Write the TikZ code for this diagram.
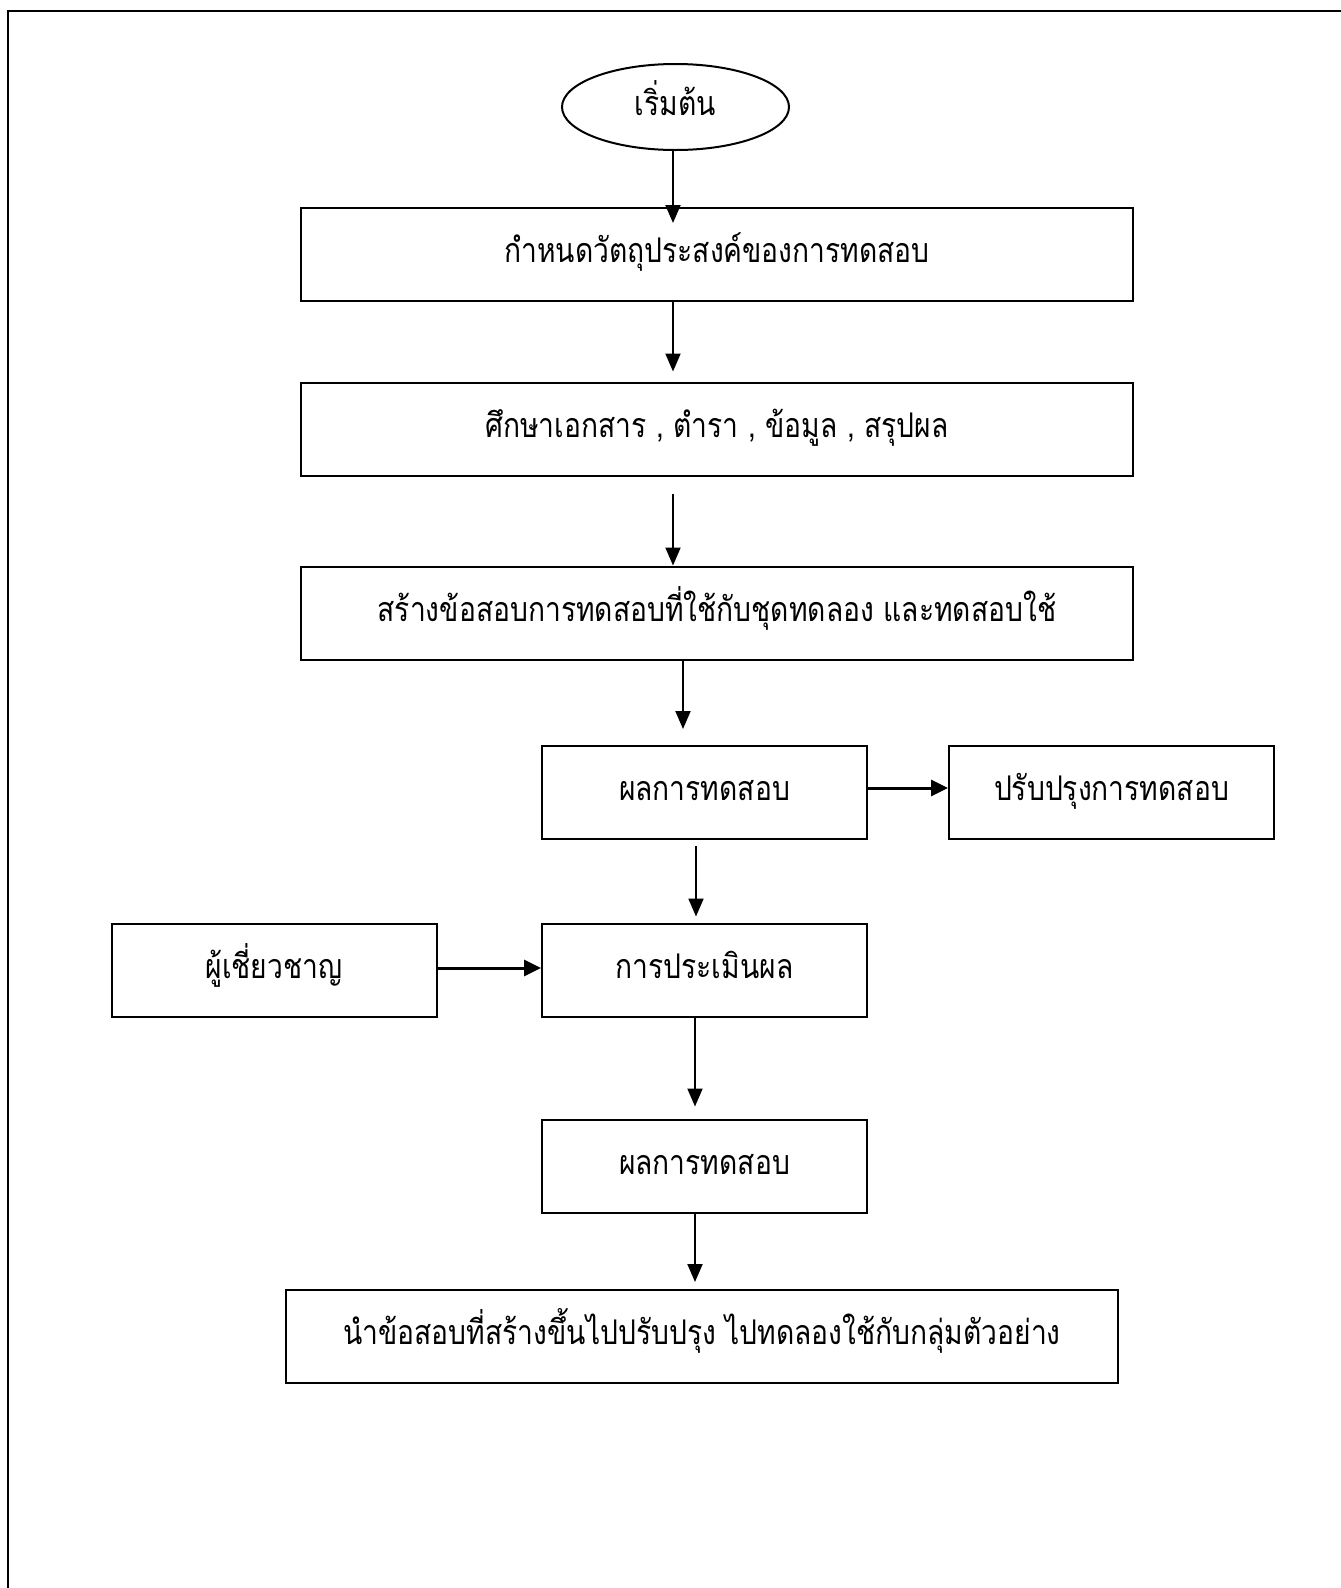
\documentclass[tikz,border=0pt]{standalone}
\usepackage{fontspec}
\usetikzlibrary{arrows.meta,shapes.geometric}
\newfontfamily\thaifont[Script=Thai,FakeStretch=0.83]{Loma}
\begin{document}
\begin{tikzpicture}[x=1pt,y=-1pt,
  every node/.style={font=\thaifont\fontsize{34}{40}\selectfont},
  boxnode/.style={draw,rectangle,line width=2pt,inner sep=0pt,text height=24pt,text depth=8pt},
  widebox/.style={boxnode,minimum width=832pt,minimum height=93pt},
  smallbox/.style={boxnode,minimum width=325pt,minimum height=93pt},
  arr/.style={line width=2pt,-{Triangle[length=18pt,width=15pt]}},
  harr/.style={line width=3pt,-{Triangle[length=17pt,width=16pt]}}]
\useasboundingbox[fill=white] (0,0) rectangle (1341,1588);
% frame (top and left)
\draw[line width=2.5pt] (1341,11) -- (8,11) -- (8,1588);
% nodes
\node[draw,ellipse,line width=2pt,minimum width=227pt,minimum height=86pt,inner sep=0pt,text height=24pt,text depth=8pt] (start) at (675.5,107) {เริ่มต้น};
\node[widebox] (b1) at (717,254.5) {กำหนดวัตถุประสงค์ของการทดสอบ};
\node[widebox] (b2) at (717,429) {ศึกษาเอกสาร , ตำรา , ข้อมูล , สรุปผล};
\node[widebox] (b3) at (717,613) {สร้างข้อสอบการทดสอบที่ใช้กับชุดทดลอง และทดสอบใช้};
\node[smallbox] (b4) at (704.5,792.5) {ผลการทดสอบ};
\node[smallbox] (b5) at (1111.5,792.5) {ปรับปรุงการทดสอบ};
\node[smallbox] (ex) at (274,970) {ผู้เชี่ยวชาญ};
\node[smallbox] (b6) at (704.5,970) {การประเมินผล};
\node[smallbox] (b7) at (704.5,1166) {ผลการทดสอบ};
\node[widebox] (b8) at (702,1336.5) {นำข้อสอบที่สร้างขึ้นไปปรับปรุง ไปทดลองใช้กับกลุ่มตัวอย่าง};
% connectors
\draw[arr] ([xshift=-2.5pt]start.south) -- ++(0,72);
\draw[arr] ([xshift=-44pt]b1.south) -- ([xshift=-44pt,yshift=10pt]b2.north);
\draw[arr] ([xshift=-44pt,yshift=-17pt]b2.south) -- ([xshift=-44pt]b3.north);
\draw[arr] ([xshift=-34pt]b3.south) -- ([xshift=-21.5pt,yshift=16pt]b4.north);
\draw[harr] ([yshift=4.5pt]b4.east) -- ([yshift=4.5pt]b5.west);
\draw[arr] ([xshift=-8.5pt,yshift=-6pt]b4.south) -- ([xshift=-8.5pt,yshift=6pt]b6.north);
\draw[harr] ([yshift=2pt]ex.east) -- ([yshift=2pt]b6.west);
\draw[arr] ([xshift=-9.5pt]b6.south) -- ([xshift=-9.5pt,yshift=12pt]b7.north);
\draw[arr] ([xshift=-9.5pt]b7.south) -- ([xshift=-7pt,yshift=7pt]b8.north);
\end{tikzpicture}
\end{document}
